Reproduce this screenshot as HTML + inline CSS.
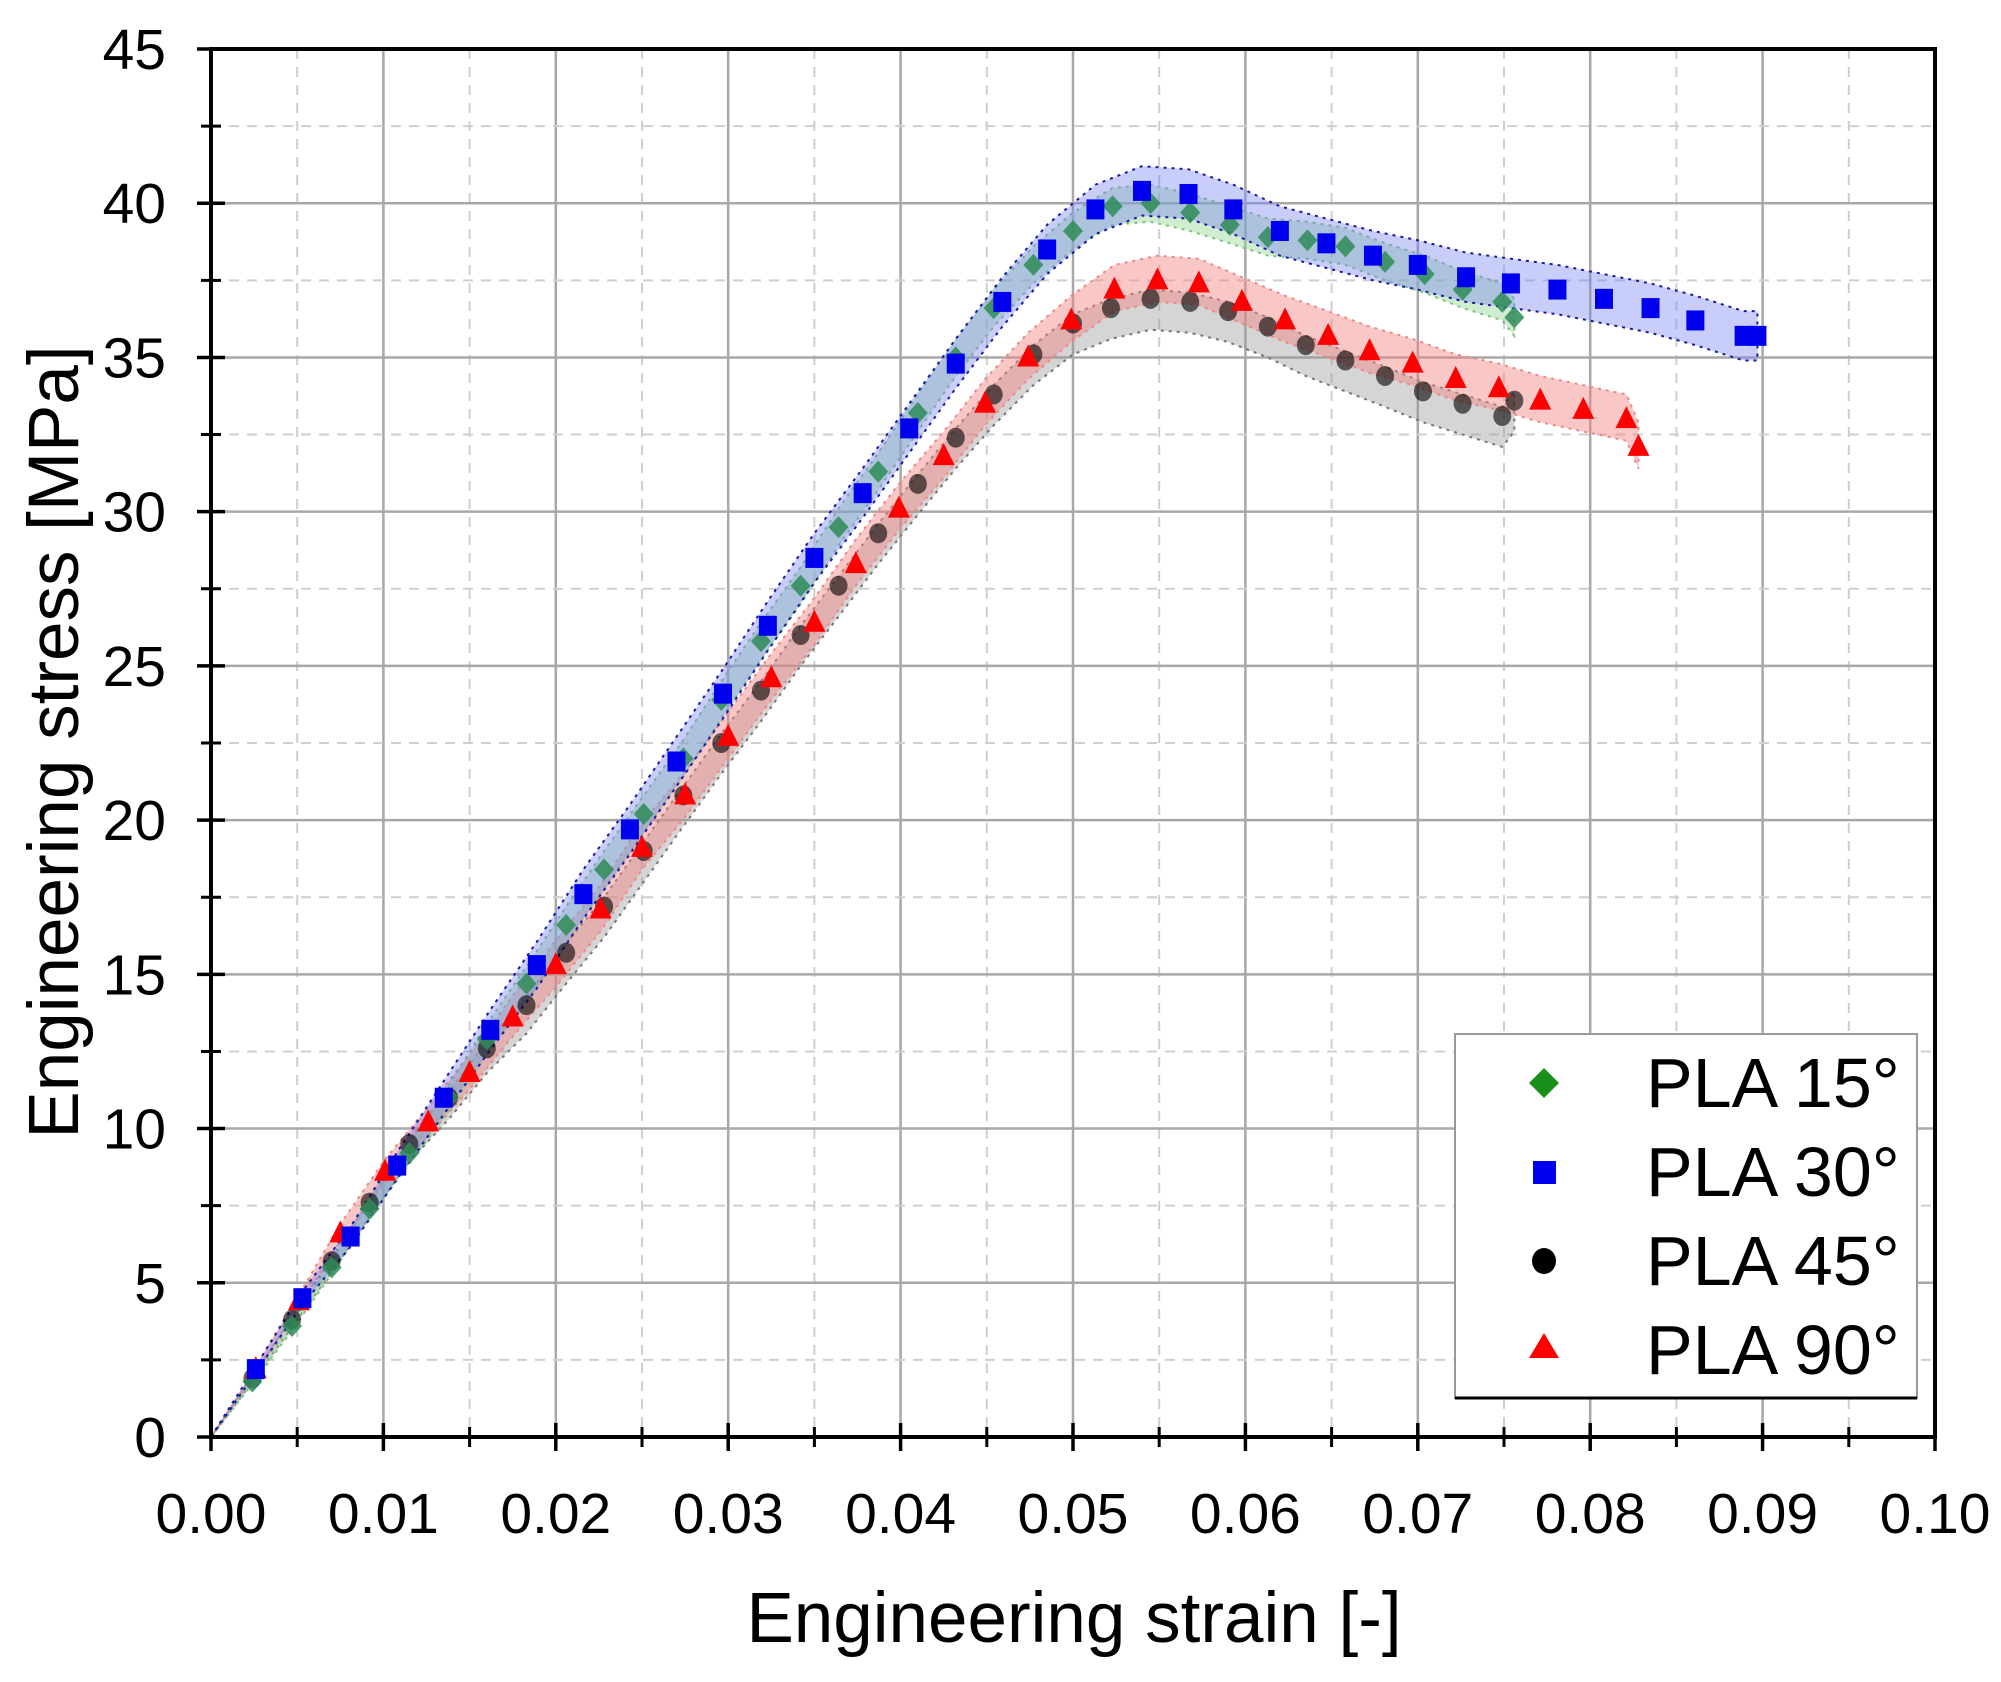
<!DOCTYPE html>
<html><head><meta charset="utf-8"><style>
html,body{margin:0;padding:0;background:#fff}
svg{display:block}
text{font-family:"Liberation Sans",Arial,sans-serif;fill:#000}
</style></head><body>
<svg id="chart" width="2001" height="1682" viewBox="0 0 2001 1682" xmlns="http://www.w3.org/2000/svg">
<g id="grid"></g>
<g id="bands"></g>
<g id="marks"></g>
<g id="axes"></g>
<text x="1074" y="1642" font-size="71" text-anchor="middle">Engineering strain [-]</text>
<text x="0" y="0" font-size="71" text-anchor="middle" transform="translate(78,742) rotate(-90)">Engineering stress [MPa]</text>
<g>
<rect x="1455" y="1034" width="462" height="364" fill="#fff" stroke="#999" stroke-width="2"/>
<line x1="1455" y1="1398" x2="1917" y2="1398" stroke="#000" stroke-width="3"/>
<g><polygon points="1544,1068 1559,1083 1544,1098 1529,1083" fill="#1a8f1a"/><text x="1646" y="1107" font-size="70">PLA 15°</text></g>
<g><rect x="1533" y="1161" width="23" height="23" fill="#0000ee"/><text x="1646" y="1196" font-size="70">PLA 30°</text></g>
<g><ellipse cx="1544" cy="1261" rx="12" ry="13" fill="#000"/><text x="1646" y="1285" font-size="70">PLA 45°</text></g>
<g><polygon points="1544,1333 1559,1358 1529,1358" fill="#ff0000"/><text x="1646" y="1374" font-size="70">PLA 90°</text></g>
</g>
</svg>
<script>
const xTicks=["0.00","0.01","0.02","0.03","0.04","0.05","0.06","0.07","0.08","0.09","0.10"];
const yTicks=["0","5","10","15","20","25","30","35","40","45"];
const s15x=[0.0024,0.0047,0.007,0.0092,0.0115,0.0138,0.016,0.0183,0.0206,0.0228,0.0251,0.0274,0.0296,0.0319,0.0342,0.0364,0.0387,0.041,0.0432,0.0454,0.0477,0.05,0.0523,0.0545,0.0568,0.0591,0.0613,0.0636,0.0658,0.0681,0.0704,0.0726,0.0749,0.0756];
const s15y=[1.8,3.6,5.5,7.4,9.2,11.0,12.9,14.7,16.6,18.4,20.2,22.0,23.9,25.8,27.6,29.5,31.3,33.2,35.0,36.6,38.0,39.1,39.9,40.0,39.7,39.3,38.9,38.8,38.6,38.1,37.7,37.2,36.8,36.3];
const s30x=[0.0026,0.0053,0.0081,0.0108,0.0135,0.0162,0.0189,0.0216,0.0243,0.027,0.0297,0.0323,0.035,0.0378,0.0405,0.0432,0.0459,0.0485,0.0513,0.054,0.0567,0.0593,0.062,0.0647,0.0674,0.07,0.0728,0.0754,0.0781,0.0808,0.0835,0.0861,0.0889,0.0897];
const s30y=[2.2,4.5,6.5,8.8,11.0,13.2,15.3,17.6,19.7,21.9,24.1,26.3,28.5,30.6,32.7,34.8,36.8,38.5,39.8,40.4,40.3,39.8,39.1,38.7,38.3,38.0,37.6,37.4,37.2,36.9,36.6,36.2,35.7,35.7];
const s45x=[0.0024,0.0047,0.007,0.0092,0.0115,0.0138,0.016,0.0183,0.0206,0.0228,0.0251,0.0274,0.0296,0.0319,0.0342,0.0364,0.0387,0.041,0.0432,0.0454,0.0477,0.05,0.0522,0.0545,0.0568,0.059,0.0613,0.0635,0.0658,0.0681,0.0703,0.0726,0.0749,0.0756];
const s45y=[1.9,3.8,5.7,7.6,9.5,11.0,12.6,14.0,15.7,17.2,19.0,20.8,22.5,24.2,26.0,27.6,29.3,30.9,32.4,33.8,35.1,36.1,36.6,36.9,36.8,36.5,36.0,35.4,34.9,34.4,33.9,33.5,33.1,33.6];
const s90x=[0.0026,0.0051,0.0075,0.0101,0.0126,0.015,0.0175,0.02,0.0226,0.025,0.0275,0.03,0.0325,0.035,0.0374,0.0399,0.0425,0.0449,0.0474,0.0499,0.0524,0.0549,0.0573,0.0598,0.0623,0.0648,0.0672,0.0697,0.0722,0.0747,0.0771,0.0796,0.0821,0.0828];
const s90y=[2.2,4.4,6.6,8.6,10.2,11.8,13.6,15.3,17.1,19.1,20.8,22.7,24.6,26.4,28.3,30.1,31.8,33.5,35.0,36.2,37.2,37.5,37.4,36.8,36.2,35.7,35.2,34.8,34.3,34.0,33.6,33.3,33.0,32.1];
const bandLow=[0.6,0.8,1.0,0.7];   // MPa below curve: 15,30,45,90
const bandHigh=[0.6,0.8,0.3,0.8];  // MPa above curve

const X0=211,X1=1935,Y0=1437,Y1=49;
const xs=v=>X0+(v/0.10)*(X1-X0);
const ys=v=>Y0-(v/45)*(Y0-Y1);
const NS="http://www.w3.org/2000/svg";
function mk(tag,attrs,parent){const e=document.createElementNS(NS,tag);for(const k in attrs)e.setAttribute(k,attrs[k]);parent.appendChild(e);return e;}
const grid=document.getElementById('grid'),axes=document.getElementById('axes'),bands=document.getElementById('bands'),marks=document.getElementById('marks');

for(let i=0;i<xTicks.length;i++){
  const v=parseFloat(xTicks[i]);
  if(i>0&&i<xTicks.length-1){const l=mk('line',{x1:xs(v),y1:Y1,x2:xs(v),y2:Y0,stroke:'#a8a8a8','stroke-width':2.5},grid);
  
  }
  if(i<xTicks.length-1){const m=mk('line',{x1:xs(v+0.005),y1:Y1,x2:xs(v+0.005),y2:Y0,stroke:'#cfcfcf','stroke-width':2,'stroke-dasharray':'10 8'},grid);
  
  }
}
for(let i=0;i<yTicks.length;i++){
  const v=parseFloat(yTicks[i]);
  if(i>0&&i<yTicks.length-1){const l=mk('line',{x1:X0,y1:ys(v),x2:X1,y2:ys(v),stroke:'#a8a8a8','stroke-width':2.5},grid);
  
  }
  if(i<yTicks.length-1){const m=mk('line',{x1:X0,y1:ys(v+2.5),x2:X1,y2:ys(v+2.5),stroke:'#cfcfcf','stroke-width':2,'stroke-dasharray':'10 8'},grid);
  
  }
}

const series=[
 {n:'pla-15',x:s15x,y:s15y,fill:'rgba(150,215,150,0.45)',edge:'#7fc07f'},
 {n:'pla-30',x:s30x,y:s30y,fill:'rgba(120,130,240,0.40)',edge:'#1a1aa0'},
 {n:'pla-45',x:s45x,y:s45y,fill:'rgba(150,150,150,0.40)',edge:'#777'},
 {n:'pla-90',x:s90x,y:s90y,fill:'rgba(245,130,130,0.45)',edge:'#e88'}
];
const order=[2,3,0,1];
order.forEach(si=>{
  const s=series[si];
  let top=[],bot=[];
  for(let i=0;i<s.x.length;i++){const f=Math.min(1,s.x[i]/0.02);top.push(xs(s.x[i])+','+ys(s.y[i]+bandHigh[si]*f));}
  for(let i=s.x.length-1;i>=0;i--){const f=Math.min(1,s.x[i]/0.02);bot.push(xs(s.x[i])+','+ys(s.y[i]-bandLow[si]*f));}
  const p=mk('polygon',{points:'211,1437 '+top.join(' ')+' '+bot.join(' '),fill:s.fill,stroke:s.edge,'stroke-width':2,'stroke-dasharray':'3 5'},bands);
  
  
});

function marker(si,cx,cy){
  let e;
  if(si===0){e=mk('polygon',{points:`${cx},${cy-11} ${cx+10},${cy} ${cx},${cy+11} ${cx-10},${cy}`,fill:'#2e8b57',opacity:0.85},marks);}
  else if(si===1){e=mk('rect',{x:cx-9,y:cy-10,width:18,height:20,fill:'#0000ee'},marks);}
  else if(si===2){e=mk('ellipse',{cx:cx,cy:cy,rx:9,ry:10,fill:'#000',opacity:0.6},marks);}
  else {e=mk('polygon',{points:`${cx},${cy-13} ${cx+11},${cy+9} ${cx-11},${cy+9}`,fill:'#ff0000'},marks);}
  return e;
}
[2,0,3,1].forEach(si=>{
  const s=series[si];
  for(let i=0;i<s.x.length;i++){
    const e=marker(si,xs(s.x[i]),ys(s.y[i]));
    
    
  }
});

const frame=mk('rect',{x:X0,y:Y1,width:X1-X0,height:Y0-Y1,fill:'none',stroke:'#000','stroke-width':4},axes);


for(let i=0;i<xTicks.length;i++){
  const v=parseFloat(xTicks[i]),x=xs(v);
  const t=mk('line',{x1:x,y1:Y0-14,x2:x,y2:Y0+14,stroke:'#000','stroke-width':3.5},axes);
  
  
  const lb=mk('text',{x:x,y:1533,'font-size':57,'text-anchor':'middle'},axes);lb.textContent=xTicks[i];
  
  
  if(i<xTicks.length-1){const m=mk('line',{x1:xs(v+0.005),y1:Y0-10,x2:xs(v+0.005),y2:Y0+10,stroke:'#000','stroke-width':3},axes);
  
  }
}
for(let i=0;i<yTicks.length;i++){
  const v=parseFloat(yTicks[i]),y=ys(v);
  const t=mk('line',{x1:X0-14,y1:y,x2:X0+14,y2:y,stroke:'#000','stroke-width':3.5},axes);
  
  
  const lb=mk('text',{x:166,y:y+20,'font-size':57,'text-anchor':'end'},axes);lb.textContent=yTicks[i];
  
  
  if(i<yTicks.length-1){const m=mk('line',{x1:X0-10,y1:ys(v+2.5),x2:X0+10,y2:ys(v+2.5),stroke:'#000','stroke-width':3},axes);
  
  }
}
</script>
</body></html>
